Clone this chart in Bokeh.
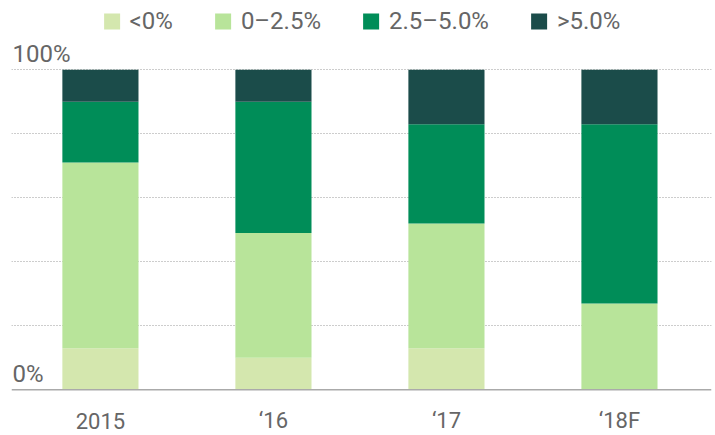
from bokeh.plotting import figure
from bokeh.models import ColumnDataSource, Range1d, Span
from bokeh.core.properties import value
from bokeh.embed import file_html
from bokeh.resources import INLINE

# ---- data ----
categories = ["2015", "\u201816", "\u201817", "\u201818F"]
series_names = ["<0%", "0\u20132.5%", "2.5\u20135.0%", ">5.0%"]
below_0 = [13, 10, 13, 0]
from_0_to_2_5 = [58, 39, 39, 27]
from_2_5_to_5 = [19, 41, 31, 56]
above_5 = [10, 10, 17, 17]
y_tick_values = [0, 100]
y_tick_labels = ["0%", "100%"]
grid_values = [20, 40, 60, 80, 100]

colors = ["#d4e7ae", "#b8e49a", "#008d58", "#1b4c4a"]
text_color = "#666666"
FONT = value("Roboto")

xs = list(range(len(categories)))
keys = ["s0", "s1", "s2", "s3"]
source = ColumnDataSource(dict(x=xs, s0=below_0, s1=from_0_to_2_5,
                               s2=from_2_5_to_5, s3=above_5))

x_start, x_end = -0.514, 3.532
y_start, y_end = -14.28, 121.66

p = figure(width=715, height=435, output_backend="svg", toolbar_location=None,
           x_range=Range1d(x_start, x_end), y_range=Range1d(y_start, y_end),
           min_border_left=11, min_border_right=4, min_border_top=0,
           min_border_bottom=0)
p.outline_line_color = None
p.xaxis.visible = False
p.yaxis.visible = False
p.xgrid.visible = False
p.ygrid.ticker = grid_values
p.ygrid.grid_line_color = "#9a9a9a"
p.ygrid.grid_line_dash = "1 2"
p.ygrid.grid_line_width = 1

p.vbar_stack(keys, x="x", width=0.44, color=colors, source=source,
             line_color=None, legend_label=series_names)

p.add_layout(Span(location=0, dimension="width", line_color="#aaaaaa",
                  line_width=1.5))

# category labels
p.text(x=xs, y=[0] * len(xs), text=categories, text_font=FONT,
       text_font_size="22px", text_color=text_color, text_align="center",
       text_baseline="alphabetic", y_offset=31)

# y labels
p.text(x=[x_start] * len(y_tick_values), y=y_tick_values, text=y_tick_labels,
       text_font=FONT, text_font_size="24px", text_color=text_color,
       text_align="left", text_baseline="alphabetic", x_offset=1, y_offset=-16)

lg = p.legend[0]
lg.orientation = "horizontal"
lg.location = "top_center"
lg.margin = 7
lg.padding = 0
lg.spacing = 40
lg.label_standoff = 8
lg.glyph_width = 20
lg.glyph_height = 20
lg.border_line_color = None
lg.background_fill_alpha = 0
lg.label_text_font = "Roboto"
lg.label_text_font_size = "24px"
lg.label_text_color = text_color
lg.click_policy = "none"

open("out.html", "w").write(file_html(p, INLINE))
